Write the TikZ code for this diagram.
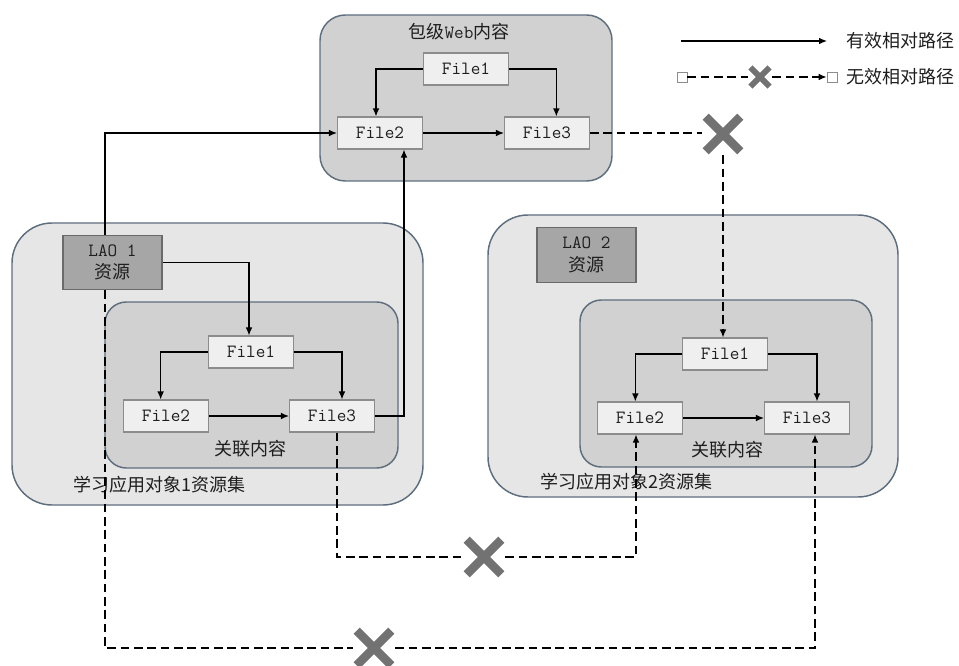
\documentclass[tikz,border=0pt]{standalone}
\usepackage{fontspec}
\newfontfamily\cjk{Noto Sans CJK SC}
\usetikzlibrary{arrows.meta,calc}
\definecolor{bigfill}{HTML}{E6E6E6}
\definecolor{innerfill}{HTML}{D1D1D1}
\definecolor{boxline}{HTML}{5F6E7E}
\definecolor{filefill}{HTML}{EFEFEF}
\definecolor{fileline}{HTML}{8C8C8C}
\definecolor{laofill}{HTML}{A6A6A6}
\definecolor{laoline}{HTML}{6A6A6A}
\definecolor{xcol}{HTML}{727272}
\definecolor{txt}{HTML}{1E1E1E}
\begin{document}
\begin{tikzpicture}[x=0.75pt,y=-0.75pt,
  container/.style={draw=boxline,line width=1.1pt},
  filebox/.style={draw=fileline,fill=filefill,line width=0.8pt,minimum width=63.75pt,minimum height=24pt,inner sep=0pt,font=\ttfamily\fontsize{14}{16}\selectfont,text=txt},
  laobox/.style={draw=laoline,fill=laofill,line width=0.8pt,minimum width=74.25pt,minimum height=41pt,inner sep=0pt,align=center,font=\ttfamily\fontsize{14}{17}\selectfont,text=txt},
  lbl/.style={font=\cjk\fontsize{13.5}{16}\selectfont,text=txt,inner sep=2pt},
  arr/.style={draw=black,line width=0.9pt,-{Latex[length=6pt,width=5pt]}},
  dsh/.style={draw=black,line width=0.9pt,dash pattern=on 6.5pt off 3.5pt},
  tip/.style={-{Latex[length=6pt,width=5pt]}},
  xmark/.style={minimum size=31.5pt,inner sep=0pt,
    path picture={
      \draw[xcol,line width=6.6pt,line cap=butt]
        ([shift={(-13pt,-13pt)}]path picture bounding box.center) --
        ([shift={(13pt,13pt)}]path picture bounding box.center);
      \draw[xcol,line width=6.6pt,line cap=butt]
        ([shift={(-13pt,13pt)}]path picture bounding box.center) --
        ([shift={(13pt,-13pt)}]path picture bounding box.center);}},
  xsmall/.style={minimum size=18pt,inner sep=0pt,
    path picture={
      \draw[xcol,line width=4.4pt,line cap=butt]
        ([shift={(-7.2pt,-7.2pt)}]path picture bounding box.center) --
        ([shift={(7.2pt,7.2pt)}]path picture bounding box.center);
      \draw[xcol,line width=4.4pt,line cap=butt]
        ([shift={(-7.2pt,7.2pt)}]path picture bounding box.center) --
        ([shift={(7.2pt,-7.2pt)}]path picture bounding box.center);}},
  sq/.style={draw=fileline,fill=white,line width=0.6pt,minimum size=7.5pt,inner sep=0pt}
]
\useasboundingbox (0,0) rectangle (959,666);

% containers
\draw[container,fill=innerfill,rounded corners=19pt] (320,15) rectangle (612,181);
\draw[container,fill=bigfill,rounded corners=30pt] (12,223) rectangle (423,505);
\draw[container,fill=innerfill,rounded corners=16pt] (105,302) rectangle (398,468);
\draw[container,fill=bigfill,rounded corners=30pt] (488,215) rectangle (898,497);
\draw[container,fill=innerfill,rounded corners=16pt] (580,300) rectangle (872,467);

% titles
\node[lbl] (ttop) at (459,32) {包级{\ttfamily\fontsize{14}{16}\selectfont Web}内容};
\node[lbl] (tlin) at (250,449) {关联内容};
\node[lbl,anchor=west] (tlbig) at (71,485) {学习应用对象1资源集};
\node[lbl] (trin) at (727,450) {关联内容};
\node[lbl,anchor=west] (trbig) at (538,482) {学习应用对象2资源集};

% top files
\node[filebox] (tF1) at (466,69) {File1};
\node[filebox] (tF2) at (380,133) {File2};
\node[filebox] (tF3) at (547,133) {File3};

% left files
\node[laobox] (LAO1) at (112.5,262.5) {LAO 1\\{\cjk\fontsize{13.5}{17}\selectfont 资源}};
\node[filebox] (lF1) at (251,352) {File1};
\node[filebox] (lF2) at (166,416) {File2};
\node[filebox] (lF3) at (332,416) {File3};

% right files
\node[laobox] (LAO2) at (586.5,255) {LAO 2\\{\cjk\fontsize{13.5}{17}\selectfont 资源}};
\node[filebox] (rF1) at (725,354) {File1};
\node[filebox] (rF2) at (640,418) {File2};
\node[filebox] (rF3) at (807,418) {File3};

% X marks
\node[xmark] (X1) at (723,134) {};
\node[xmark] (X2) at (484,557) {};
\node[xmark] (X3) at (374,648) {};

% solid arrows
\draw[arr] (tF1.west) -| ([xshift=-3pt]tF2.north);
\draw[arr] (tF1.east) -| ([xshift=7pt]tF3.north);
\draw[arr] (tF2) -- (tF3);
\draw[arr] ([xshift=-5.6pt]LAO1.north) |- (tF2.west);
\draw[arr] (LAO1.east) -| ([xshift=-1.5pt]lF1.north);
\draw[arr] (lF1.west) -| ([xshift=-4pt]lF2.north);
\draw[arr] (lF1.east) -| ([xshift=7.5pt]lF3.north);
\draw[arr] (lF2) -- (lF3);
\draw[arr] (lF3.east) -| ([xshift=18pt]tF2.south);
\draw[arr] (rF1.west) -| ([xshift=-3.5pt]rF2.north);
\draw[arr] (rF1.east) -| ([xshift=7.5pt]rF3.north);
\draw[arr] (rF2) -- (rF3);

% dashed (invalid) paths
\draw[dsh] (tF3.east) -- (X1.west |- tF3.east);
\draw[dsh,tip] (X1.south) -- (X1.south |- rF1.north);
\draw[dsh] ([xshift=3.75pt]lF3.south) |- (X2.west);
\draw[dsh,tip] (X2.east) -| ([xshift=-3pt]rF2.south);
\draw[dsh] ([xshift=-5.6pt]LAO1.south) |- (X3.west);
\draw[dsh,tip] (X3.east) -| ([xshift=6pt]rF3.south);

% legend
\coordinate (la) at (681,41);
\coordinate (lb) at (827,41);
\draw[arr] (la) -- (lb);
\node[lbl,anchor=west] (lt1) at (844,41) {有效相对路径};
\node[sq] (ls) at (682,77) {};
\node[sq] (le) at (832,77) {};
\node[xsmall] (lx) at (760,77) {};
\draw[dsh] (ls) -- (lx);
\draw[dsh,tip] (lx) -- (le);
\node[lbl,anchor=west] (lt2) at (844,77) {无效相对路径};
\end{tikzpicture}
\end{document}
